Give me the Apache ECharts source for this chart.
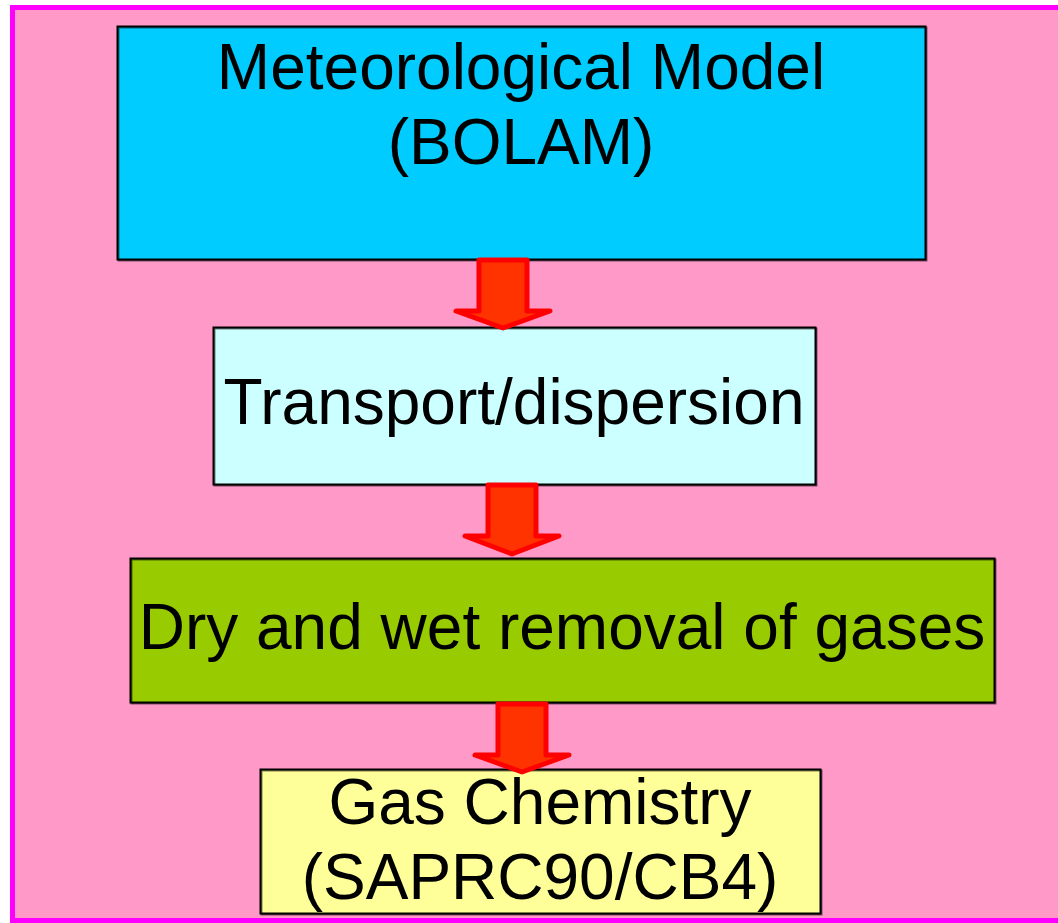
<!DOCTYPE html>
<html>
<head>
<meta charset="utf-8">
<script src="https://cdn.jsdelivr.net/npm/echarts@6/dist/echarts.min.js"></script>
<style>
html, body { margin: 0; padding: 0; background: #fff; }
#main { width: 1058px; height: 923px; }
</style>
</head>
<body>
<div id="main"></div>
<script>
// box labels, top to bottom
const stepLabels = [
    ['Meteorological Model', '(BOLAM)'],
    ['Transport/dispersion'],
    ['Dry and wet removal of gases'],
    ['Gas Chemistry', '(SAPRC90/CB4)']
]
const stepColors = ['#00ccff', '#ccffff', '#99cc00', '#ffff99']

// layout (pixels)
const boxes = [
    { x: 117, y: 26, w: 808, h: 233, textY: [71, 146] },
    { x: 213, y: 327, w: 602, h: 157, textY: [406] },
    { x: 130, y: 558, w: 864, h: 144, textY: [631] },
    { x: 260, y: 769, w: 560, h: 144, textY: [806, 881] }
]
const arrows = [
    { cx: 503, top: 260, base: 311, tip: 328 },
    { cx: 512, top: 485, base: 536, tip: 554 },
    { cx: 522, top: 704, base: 755, tip: 772 }
]

const chart = echarts.init(document.getElementById('main'))
const elements = []

// background panel
elements.push({
    type: 'rect',
    shape: { x: 12.5, y: 7.5, width: 1060, height: 913 },
    style: { fill: '#ff99c8', stroke: '#ff00ff', lineWidth: 5 }
})

boxes.forEach((b, i) => {
    elements.push({
        type: 'rect',
        shape: { x: b.x + 0.5, y: b.y + 0.5, width: b.w, height: b.h },
        style: { fill: stepColors[i], stroke: '#000', lineWidth: 2, shadowColor: 'rgba(0,0,0,0.5)', shadowOffsetX: 1, shadowOffsetY: 1 }
    })
    stepLabels[i].forEach((t, j) => {
        elements.push({
            type: 'text',
            x: b.x + b.w / 2,
            y: b.textY[j],
            style: {
                text: t,
                fill: '#000',
                font: '64px "Liberation Sans", Arial, sans-serif',
                align: 'center',
                verticalAlign: 'middle'
            }
        })
    })
})

arrows.forEach(a => {
    const sw = 24, hw = 47
    elements.push({
        type: 'polygon',
        z: 10,
        shape: {
            points: [
                [a.cx - sw, a.top], [a.cx + sw, a.top], [a.cx + sw, a.base],
                [a.cx + hw, a.base], [a.cx, a.tip], [a.cx - hw, a.base],
                [a.cx - sw, a.base]
            ]
        },
        style: { fill: '#ff3300', stroke: '#ff0000', lineWidth: 5, lineJoin: 'round' }
    })
})

chart.setOption({
    animation: false,
    graphic: { elements: elements }
})
</script>
</body>
</html>
